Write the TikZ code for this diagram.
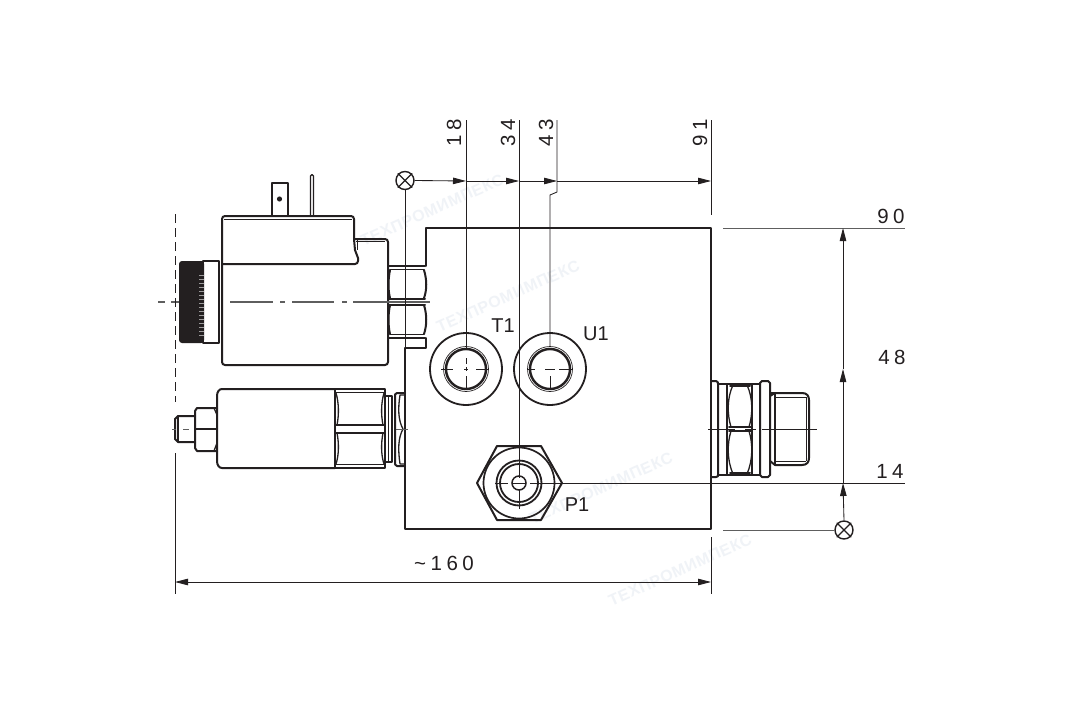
\documentclass[tikz,border=0pt]{standalone}
\usepackage{fontspec}
\setmainfont{Liberation Sans}
\newfontfamily\dimfont[LetterSpace=22]{Liberation Sans}
\newfontfamily\markfont[LetterSpace=4]{Liberation Sans Bold}
\usetikzlibrary{arrows.meta}
\definecolor{ink}{HTML}{231F20}
\definecolor{centre}{HTML}{5E5E5E}
\definecolor{wmark}{HTML}{F0F3F7}
\tikzset{
  thick line/.style={draw=ink,line width=2pt,line cap=round,line join=round},
  mid line/.style={draw=ink,line width=1.3pt,line cap=round,line join=round},
  thin line/.style={draw=ink,line width=.85pt},
  grey line/.style={draw=centre,line width=1pt},
  centre line/.style={draw=centre,line width=1.4pt},
  datum line/.style={draw=ink,line width=.9pt,dash pattern=on 9pt off 5pt},
  dim/.style={thin line,-{Triangle[length=13pt,width=6.5pt]}},
  dimboth/.style={thin line,{Triangle[length=13pt,width=6.5pt]}-{Triangle[length=13pt,width=6.5pt]}},
  datum/.style={circle,draw=ink,line width=1.4pt,minimum size=18pt,inner sep=0pt,fill=white},
  dimtext/.style={font=\dimfont\fontsize{20.5}{20.5}\selectfont,text=ink,inner sep=0pt},
  porttext/.style={font=\fontsize{20}{20}\selectfont,text=ink,inner sep=0pt},
  wmtext/.style={font=\markfont\fontsize{16}{16}\selectfont,text=wmark,inner sep=0pt,rotate=24},
}
\begin{document}
\begin{tikzpicture}[x=1pt,y=-1pt]
\useasboundingbox (0,0) rectangle (1080,720);
\fill[white] (0,0) rectangle (1080,720);
% watermarks
\node[wmtext] (wm1) at (432,210) {ТЕХПРОМИМПЕКС};
\node[wmtext] (wm2) at (508,296) {ТЕХПРОМИМПЕКС};
\node[wmtext] (wm3) at (601,488) {ТЕХПРОМИМПЕКС};
\node[wmtext] (wm4) at (680,570) {ТЕХПРОМИМПЕКС};
% reference points
\coordinate (tT) at (466,120); \coordinate (tP) at (519,120); \coordinate (tU) at (557,120); \coordinate (tE) at (711,120);
\coordinate (aT) at (466,181); \coordinate (aP) at (519,181); \coordinate (aU) at (557,181); \coordinate (aE) at (711,181);
\coordinate (cT) at (466,369); \coordinate (cU) at (550,369); \coordinate (cP) at (519,483);
\coordinate (rTop) at (905,228); \coordinate (rU) at (905,369); \coordinate (rP) at (905,483);
\coordinate (vTop) at (843,228); \coordinate (vU) at (843,369); \coordinate (vP) at (843,483);
% block
\draw[thick line] (426,266)--(426,228)--(711,228)--(711,529)--(405,529)--(405,348)--(426,348)--(426,338);
% coil
\draw[thick line] (222,264)--(222,219) arc[start angle=180,end angle=270,radius=3]--(351,216) arc[start angle=-90,end angle=0,radius=3]--(354,239)--(385,239) arc[start angle=-90,end angle=0,radius=3]--(388,362) arc[start angle=0,end angle=90,radius=3]--(225,365) arc[start angle=90,end angle=180,radius=3]--(222,264);
\draw[thick line] (222,264)--(355,264) arc[start angle=90,end angle=0,radius=3]--(358,258)--(355,250)--(354,239);
\draw[draw=ink,line width=.7pt] (224,219)--(352,219);
\draw[draw=ink,line width=.7pt] (357,240)--(357,250);
\draw[draw=ink,line width=.7pt] (356,241)--(385,241);
% knob
\fill[ink,rounded corners=3pt] (179,261) rectangle (204,343);
\fill[ink] (195,261) rectangle (204,343);
\draw[thick line] (203,261)--(219,261)--(219,343)--(203,343);
\foreach \yy in {275,279,...,335}{\draw[white!55!ink,line width=.3pt] (199,\yy)--(204,\yy);}
% tabs
\draw[thick line] (272,215)--(272,183)--(288,183)--(288,215);
\fill[ink] (279.5,199) circle[radius=2.6];
\draw[mid line] (310.5,215)--(310.5,176) arc[start angle=180,end angle=360,radius=1.5]--(313.5,215);
% coil nut
\draw[thick line] (389,266)--(425,266);
\draw[mid line] (390,269.5)--(424,269.5);
\draw[thick line] (389,298.5)--(425,298.5);
\draw[thick line] (389,304.5)--(425,304.5);
\draw[thick line] (389,338)--(425,338);
\draw[mid line] (390,334.5)--(424,334.5);
\draw[thick line] (390,270) .. controls (388,280) and (388,290) .. (390,298);
\draw[thick line] (390,305) .. controls (388,315) and (388,325) .. (390,334);
\draw[thick line] (424,270) .. controls (427,280) and (427,290) .. (424,298);
\draw[thick line] (424,305) .. controls (427,315) and (427,325) .. (424,334);
% coil centre line
\coordinate (cl1) at (158,302); \coordinate (cl2) at (430,302);
\draw[centre line] (cl1)--(165,302) (171,302)--(179,302) (230,302)--(273,302) (280,302)--(285,302) (292,302)--(334,302) (342,302)--(347,302) (353,302)--(cl2);
% sensor body
\draw[thick line] (335,389)--(222,389) .. controls (219,389) and (217,392) .. (217,396)--(217,461) .. controls (217,465) and (219,468) .. (222,468)--(335,468);
\draw[thick line] (335,389)--(385,389)--(385,468)--(335,468)--cycle;
\draw[mid line] (336,392.5)--(384,392.5);
\draw[mid line] (336,464.5)--(384,464.5);
\draw[thick line] (336,425)--(384,425);
\draw[thick line] (336,433)--(384,433);
\draw[mid line] (336,393) .. controls (339,403) and (339,415) .. (337,425);
\draw[mid line] (337,433) .. controls (339,443) and (339,455) .. (336,464);
\draw[mid line] (384,393) .. controls (381,403) and (381,415) .. (383,425);
\draw[mid line] (383,433) .. controls (381,443) and (381,455) .. (384,464);
% sensor collar
\draw[thick line] (385,396)--(392,396)--(392,462)--(385,462);
\draw[mid line] (388.5,396)--(388.5,462);
\draw[thick line] (405,393)--(397,393) .. controls (395,393) and (395,395) .. (395,397)--(395,461) .. controls (395,464) and (395,466) .. (397,466)--(405,466);
\draw[mid line] (405,395)--(400,395) .. controls (398,408) and (398,420) .. (403,429) .. controls (398,438) and (398,450) .. (400,464)--(405,464);
% sensor small nut
\draw[thick line] (217,408)--(197,408)--(195,411)--(195,448)--(197,451)--(217,451);
\draw[thick line] (195,429)--(217,429);
\draw[mid line] (214,408)--(217,415)--(217,443)--(214,451);
% sensor stub
\draw[thick line] (195,416)--(178,416)--(175,419)--(175,439)--(178,442)--(195,442);
\draw[mid line] (178,417)--(178,441);
\draw[grey line] (183,429)--(189,429);
\draw[grey line] (172,429)--(176,429);
\draw[grey line] (396,429)--(408,429);
% ports
\foreach \nm in {T,U}{
  \node[circle,draw=ink,line width=1.8pt,minimum size=72pt,inner sep=0pt] (o\nm) at (c\nm) {};
  \node[circle,draw=ink,line width=2.4pt,minimum size=40pt,inner sep=0pt] (i\nm) at (c\nm) {};
  \node[circle,draw=ink,line width=.7pt,minimum size=45pt,inner sep=0pt] (r\nm) at (c\nm) {};
}
\draw[thick line,draw=ink] (497,446)--(541,446)--(562,483)--(541,520)--(497,520)--(477,483)--cycle;
\node[circle,draw=ink,line width=1.7pt,minimum size=71pt,inner sep=0pt] (oP) at (cP) {};
\node[circle,draw=ink,line width=1.8pt,minimum size=45pt,inner sep=0pt] (rP1) at (cP) {};
\node[circle,draw=ink,line width=1.8pt,minimum size=38pt,inner sep=0pt] (rP2) at (cP) {};
\node[circle,draw=ink,line width=1.5pt,minimum size=14pt,inner sep=0pt] (rP3) at (cP) {};
% port centre marks
\draw[thin line] (441,369)--(453,369) (464,369)--(468,369) (476,369)--(489,369);
\draw[thin line] (466,347)--(466,349) (466,358)--(466,364) (466,367)--(466,371) (466,376)--(466,389);
\draw[thin line] (527,369)--(535,369) (545,369)--(555,369) (559,369)--(rU);
\draw[thin line] (550,376)--(550,390);
\draw[thin line] (495,483)--(508,483) (513,483)--(525,483) (530,483)--(rP);
\draw[thin line] (519,490)--(519,509);
% port labels
\node[porttext] (lT) at (503,326) {T1};
\node[porttext] (lU) at (596,334) {U1};
\node[porttext] (lP) at (577,505) {P1};
% right plug
\draw[thick line] (711,381)--(716,381) .. controls (718,381) and (718,383) .. (718,384)--(718,475) .. controls (718,476) and (718,477) .. (716,477)--(711,477);
\draw[thick line] (718,384)--(760,384);
\draw[thick line] (718,475)--(760,475);
\draw[mid line] (727,384)--(727,475);
\draw[mid line] (752,384)--(752,475);
\draw[thick line] (730,386)--(750,386);
\draw[thick line] (730,473)--(750,473);
\draw[thick line] (729,427)--(751,427);
\draw[thick line] (729,431)--(751,431);
\draw[mid line] (733,385) .. controls (727,398) and (727,414) .. (731,427);
\draw[mid line] (731,431) .. controls (727,444) and (727,460) .. (733,474);
\draw[mid line] (747,385) .. controls (753,398) and (753,414) .. (749,427);
\draw[mid line] (749,431) .. controls (753,444) and (753,460) .. (747,474);
\draw[thick line] (762,381)--(768,381)--(770,383)--(770,475)--(768,477)--(762,477)--(760,475)--(760,383)--cycle;
\draw[thick line] (770,393)--(802,393) .. controls (807,393) and (809,396) .. (809,400)--(809,458) .. controls (809,462) and (807,465) .. (802,465)--(775,465)--(770,461);
\draw[thick line] (770,396)--(775,393);
\draw[mid line] (775,393)--(775,465);
\draw[draw=ink,line width=.7pt] (775,397)--(806,397);
\draw[draw=ink,line width=.7pt] (775,461)--(806,461);
\draw[draw=ink,line width=.7pt] (806,397)--(806,461);
\draw[thin line] (708,429)--(735,429) (745,429)--(756,429) (762,429)--(817,429);
% datums
\node[datum] (dTop) at (405,180.5) {};
\draw[mid line] (dTop.north west)--(dTop.south east) (dTop.north east)--(dTop.south west);
\node[datum] (dRight) at (844,530) {};
\draw[mid line] (dRight.north west)--(dRight.south east) (dRight.north east)--(dRight.south west);
% dimension: top
\draw[thin line] (tT)--(466,347);
\draw[thin line] (tP)--(519,478);
\draw[thin line] (tU)--(557,192)--(550,195)--(550,347);
\draw[thin line] (tE)--(711,215);
\draw[dim] (dTop.east)--(aT);
\draw[dim] (aT)--(aP);
\draw[dim] (aP)--(aU);
\draw[dim] (aU)--(aE);
\draw[thin line] (dTop.south)--(405,348);
\node[dimtext,rotate=90] (n18) at (454,133) {18};
\node[dimtext,rotate=90] (n34) at (508,133) {34};
\node[dimtext,rotate=90] (n43) at (546,133) {43};
\node[dimtext,rotate=90] (n91) at (700,133) {91};
% dimension: right
\draw[grey line] (723,228)--(rTop);
\draw[grey line] (723,530)--(dRight.west);
\draw[dim] (dRight.north)--(vP);
\draw[dim] (vP)--(vU);
\draw[dim] (vU)--(vTop);
\node[dimtext] (n90) at (891,216) {90};
\node[dimtext] (n48) at (892,357) {48};
\node[dimtext] (n14) at (890,471) {14};
% dimension: bottom
\coordinate (bL) at (175,582); \coordinate (bR) at (711,582);
\draw[datum line] (175,214)--(175,402);
\draw[thin line] (175,453)--(175,594);
\draw[thin line] (711,537)--(711,594);
\draw[dimboth] (bL)--(bR);
\node[dimtext] (n160) at (444,563) {\char"007E 160};
\end{tikzpicture}
\end{document}
